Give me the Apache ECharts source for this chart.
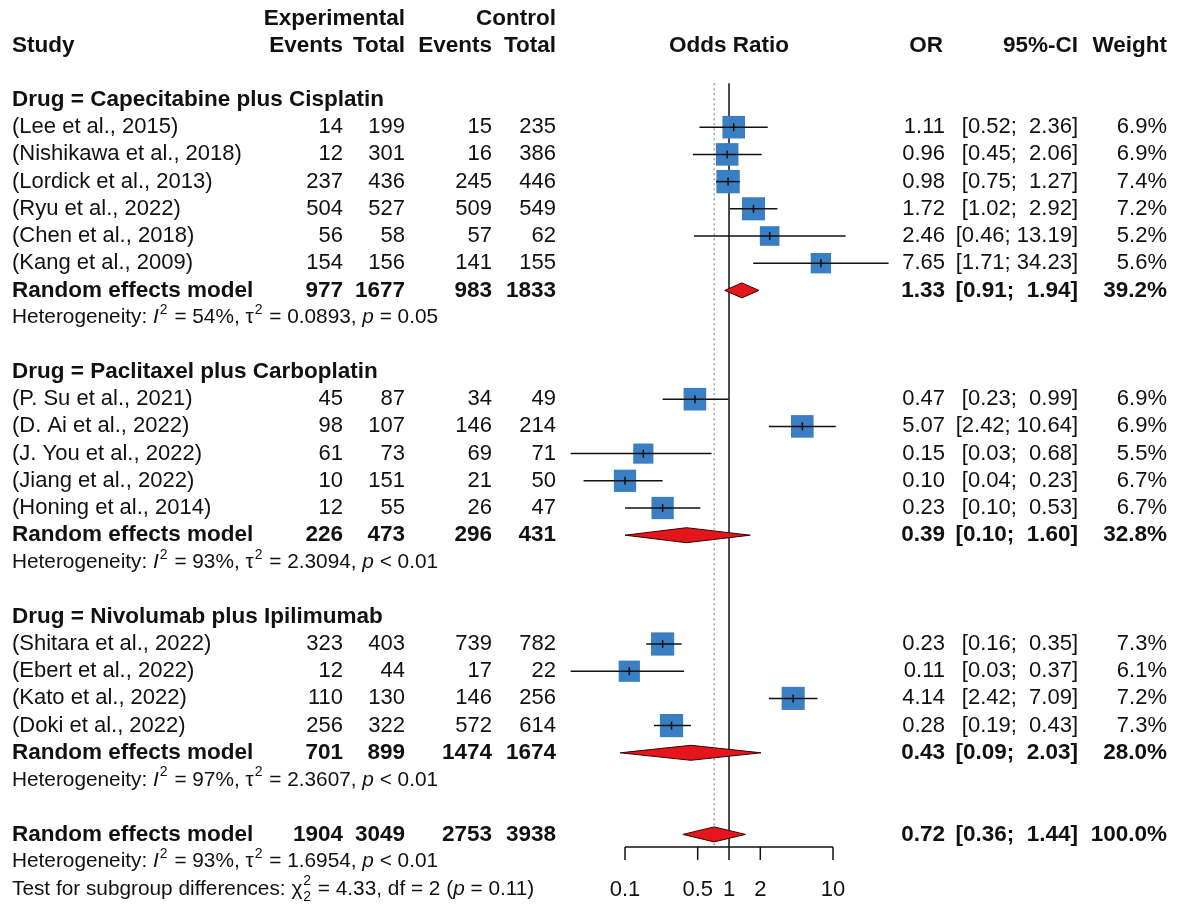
<!DOCTYPE html>
<html>
<head>
<meta charset="utf-8">
<title>Forest plot – odds ratios by drug regimen</title>
<script src="https://cdn.jsdelivr.net/npm/echarts@6/dist/echarts.min.js"></script>
<style>
  html, body { margin: 0; padding: 0; background: #fff; }
  #chart { width: 1177px; height: 906px; }
</style>
</head>
<body>
<div id="chart"></div>
<script>
// ---------------- data ----------------
const groupNames = ['Capecitabine plus Cisplatin', 'Paclitaxel plus Carboplatin', 'Nivolumab plus Ipilimumab'];

const studyLabels = [
  '(Lee et al., 2015)', '(Nishikawa et al., 2018)', '(Lordick et al., 2013)', '(Ryu et al., 2022)',
  '(Chen et al., 2018)', '(Kang et al., 2009)',
  '(P. Su et al., 2021)', '(D. Ai et al., 2022)', '(J. You et al., 2022)', '(Jiang et al., 2022)',
  '(Honing et al., 2014)',
  '(Shitara et al., 2022)', '(Ebert et al., 2022)', '(Kato et al., 2022)', '(Doki et al., 2022)'
];
const studyGroup = [0, 0, 0, 0, 0, 0, 1, 1, 1, 1, 1, 2, 2, 2, 2];
const expEvents  = [14, 12, 237, 504, 56, 154, 45, 98, 61, 10, 12, 323, 12, 110, 256];
const expTotal   = [199, 301, 436, 527, 58, 156, 87, 107, 73, 151, 55, 403, 44, 130, 322];
const ctrlEvents = [15, 16, 245, 509, 57, 141, 34, 146, 69, 21, 26, 739, 17, 146, 572];
const ctrlTotal  = [235, 386, 446, 549, 62, 155, 49, 214, 71, 50, 47, 782, 22, 256, 614];
const studyOR    = [1.11, 0.96, 0.98, 1.72, 2.46, 7.65, 0.47, 5.07, 0.15, 0.10, 0.23, 0.23, 0.11, 4.14, 0.28];
const studyLower = [0.52, 0.45, 0.75, 1.02, 0.46, 1.71, 0.23, 2.42, 0.03, 0.04, 0.10, 0.16, 0.03, 2.42, 0.19];
const studyUpper = [2.36, 2.06, 1.27, 2.92, 13.19, 34.23, 0.99, 10.64, 0.68, 0.23, 0.53, 0.35, 0.37, 7.09, 0.43];
const studyWeight = [6.9, 6.9, 7.4, 7.2, 5.2, 5.6, 6.9, 6.9, 5.5, 6.7, 6.7, 7.3, 6.1, 7.2, 7.3];

// subgroup random-effects summaries
const poolExpEvents  = [977, 226, 701];
const poolExpTotal   = [1677, 473, 899];
const poolCtrlEvents = [983, 296, 1474];
const poolCtrlTotal  = [1833, 431, 1674];
const poolOR     = [1.33, 0.39, 0.43];
const poolLower  = [0.91, 0.10, 0.09];
const poolUpper  = [1.94, 1.60, 2.03];
const poolWeight = [39.2, 32.8, 28.0];
const hetI2   = [54, 93, 97];
const hetTau2 = ['0.0893', '2.3094', '2.3607'];
const hetP    = ['= 0.05', '< 0.01', '< 0.01'];

// overall random-effects summary
const overallCounts = [1904, 3049, 2753, 3938];
const overallOR = [0.72, 0.36, 1.44];   // estimate, lower, upper
const overallWeight = 100.0;
const overallHet = { i2: 93, tau2: '1.6954', p: '< 0.01' };
const subgroupTest = { chi2: '4.33', df: 2, p: '= 0.11' };

// x-axis ticks of the odds-ratio scale
const axisTicks = [0.1, 0.5, 1, 2, 10];
const axisTickLabels = ['0.1', '0.5', '1', '2', '10'];

// ---------------- styling ----------------
const FAMILY = '"Liberation Sans", Arial, Helvetica, sans-serif';
const SIZE = 22;
const BOLD_SIZE = 22.5;
const HET_SIZE = 20.8;
const SUP_SIZE = 14;
const TEXT = '#111';
const SQUARE = '#3A7EC4';
const DIAMOND = '#E4161C';
const COL = { study: 12, expEv: 343, expTot: 405, ctrlEv: 492, ctrlTot: 556, or: 945, ci: 1078, w: 1167 };

function font(weight, size, style) {
  return (style || 'normal') + ' ' + weight + ' ' + size + 'px ' + FAMILY;
}
const measureCtx = document.createElement('canvas').getContext('2d');
function textWidth(str, f) { measureCtx.font = f; return measureCtx.measureText(str).width; }

function txt(x, y, s, f, align) {
  return {
    type: 'text', x: x, y: y, silent: true,
    style: { text: s, font: f, fill: TEXT, align: align || 'right', verticalAlign: 'middle' }
  };
}

const upperWidth = Math.max(...studyUpper.concat(poolUpper, [overallOR[2]]).map(v => v.toFixed(2).length));
const lowerWidth = Math.max(...studyLower.concat(poolLower, [overallOR[1]]).map(v => v.toFixed(2).length));
function pad(s, n) { return ' '.repeat(Math.max(0, n - s.length)) + s; }
function ciText(lo, hi) {
  return '[' + pad(lo.toFixed(2), lowerWidth) + '; ' + pad(hi.toFixed(2), upperWidth) + ']';
}

// ---------------- row layout ----------------
const layoutRows = [];
layoutRows.push({ row: -3, kind: 'head1' });
layoutRows.push({ row: -2, kind: 'head2' });
let r = 0;
groupNames.forEach((name, g) => {
  layoutRows.push({ row: r++, kind: 'group', g: g });
  studyGroup.forEach((sg, i) => { if (sg === g) layoutRows.push({ row: r++, kind: 'study', i: i }); });
  layoutRows.push({ row: r++, kind: 'pooled', g: g });
  layoutRows.push({ row: r++, kind: 'het', g: g });
  r++;
});
const overallRow = r;
layoutRows.push({ row: r++, kind: 'overall' });
layoutRows.push({ row: r++, kind: 'overallHet' });
layoutRows.push({ row: r++, kind: 'test' });
const studyRow = {};
const poolRow = {};
layoutRows.forEach(o => { if (o.kind === 'study') studyRow[o.i] = o.row; if (o.kind === 'pooled') poolRow[o.g] = o.row; });

const REF_TOP_ROW = -0.62;
const AXIS_ROW = 27.46;
const LABEL_ROW = 29.05;

function pieceTexts(x0, y, pieces) {
  const out = [];
  let x = x0;
  pieces.forEach(p => {
    if (p.sup || p.sub) {
      const f = font('normal', SUP_SIZE);
      if (p.sup) out.push(txt(x + 1, y - 7.5, p.t, f, 'left'));
      if (p.sub) out.push(txt(x + 1, y + 8, p.t, f, 'left'));
      x += textWidth(p.t, f) + 2;
    } else {
      const f = font('normal', HET_SIZE, p.it ? 'italic' : 'normal');
      out.push(txt(x, y, p.t, f, 'left'));
      x += textWidth(p.t, f);
    }
  });
  return out;
}
function hetPieces(i2, tau2, p) {
  return [
    { t: 'Heterogeneity: ' }, { t: 'I', it: true }, { t: '2', sup: true },
    { t: ' = ' + i2 + '%, ' }, { t: 'τ' }, { t: '2', sup: true },
    { t: ' = ' + tau2 + ', ' }, { t: 'p', it: true }, { t: ' ' + p }
  ];
}

function numberCells(y, f, a, b, c, d) {
  return [
    txt(COL.expEv, y, String(a), f), txt(COL.expTot, y, String(b), f),
    txt(COL.ctrlEv, y, String(c), f), txt(COL.ctrlTot, y, String(d), f)
  ];
}
function effectCells(y, f, est, lo, hi, w) {
  return [
    txt(COL.or, y, est.toFixed(2), f), txt(COL.ci, y, ciText(lo, hi), f),
    txt(COL.w, y, w.toFixed(1) + '%', f)
  ];
}

function renderTable(params, api) {
  const o = layoutRows[params.dataIndex];
  const y = api.coord([1, o.row])[1];
  const B = font('bold', BOLD_SIZE), N = font('normal', SIZE);
  let ch = [];
  switch (o.kind) {
    case 'head1':
      ch = [txt(COL.expTot, y, 'Experimental', B), txt(COL.ctrlTot, y, 'Control', B)];
      break;
    case 'head2':
      ch = [
        txt(COL.study, y, 'Study', B, 'left'),
        txt(COL.expEv, y, 'Events', B), txt(COL.expTot, y, 'Total', B),
        txt(COL.ctrlEv, y, 'Events', B), txt(COL.ctrlTot, y, 'Total', B),
        txt(api.coord([1, o.row])[0], y, 'Odds Ratio', B, 'center'),
        txt(COL.or - 2, y, 'OR', B), txt(COL.ci, y, '95%-CI', B), txt(COL.w, y, 'Weight', B)
      ];
      break;
    case 'group':
      ch = [txt(COL.study, y, 'Drug = ' + groupNames[o.g], B, 'left')];
      break;
    case 'study': {
      const i = o.i;
      ch = [txt(COL.study, y, studyLabels[i], N, 'left')]
        .concat(numberCells(y, N, expEvents[i], expTotal[i], ctrlEvents[i], ctrlTotal[i]))
        .concat(effectCells(y, N, studyOR[i], studyLower[i], studyUpper[i], studyWeight[i]));
      break;
    }
    case 'pooled': {
      const g = o.g;
      ch = [txt(COL.study, y, 'Random effects model', B, 'left')]
        .concat(numberCells(y, B, poolExpEvents[g], poolExpTotal[g], poolCtrlEvents[g], poolCtrlTotal[g]))
        .concat(effectCells(y, B, poolOR[g], poolLower[g], poolUpper[g], poolWeight[g]));
      break;
    }
    case 'het':
      ch = pieceTexts(COL.study, y, hetPieces(hetI2[o.g], hetTau2[o.g], hetP[o.g]));
      break;
    case 'overall':
      ch = [txt(COL.study, y, 'Random effects model', B, 'left')]
        .concat(numberCells(y, B, overallCounts[0], overallCounts[1], overallCounts[2], overallCounts[3]))
        .concat(effectCells(y, B, overallOR[0], overallOR[1], overallOR[2], overallWeight));
      break;
    case 'overallHet':
      ch = pieceTexts(COL.study, y, hetPieces(overallHet.i2, overallHet.tau2, overallHet.p));
      break;
    case 'test':
      ch = pieceTexts(COL.study, y, [
        { t: 'Test for subgroup differences: ' }, { t: 'χ' }, { t: '2', sup: true, sub: true },
        { t: ' = ' + subgroupTest.chi2 + ', df = ' + subgroupTest.df + ' (' }, { t: 'p', it: true },
        { t: ' ' + subgroupTest.p + ')' }
      ]);
      break;
  }
  return { type: 'group', children: ch };
}

// ---------------- series data ----------------
const studyData = studyOR.map((v, i) => [v, studyLower[i], studyUpper[i], studyRow[i], studyWeight[i]]);
const diamondData = poolOR.map((v, g) => [v, poolLower[g], poolUpper[g], poolRow[g]])
  .concat([[overallOR[0], overallOR[1], overallOR[2], overallRow]]);
const refData = [[1, 0], [overallOR[0], 1]];

const chart = echarts.init(document.getElementById('chart'), null, { renderer: 'canvas' });
chart.setOption({
  animation: false,
  backgroundColor: '#fff',
  grid: { left: 521, width: 416, top: 18.4, height: 870.4 },
  xAxis: { type: 'log', logBase: 10, min: 0.01, max: 100, show: false },
  yAxis: { type: 'value', inverse: true, min: -3, max: 29, show: false },
  series: [
    {
      // line of no effect and overall estimate
      type: 'custom', silent: true, data: refData, encode: { x: 0, y: 1 },
      renderItem: (params, api) => {
        const x = api.coord([api.value(0), 0])[0];
        const y1 = api.coord([1, REF_TOP_ROW])[1];
        const y2 = api.coord([1, AXIS_ROW])[1];
        const solid = api.value(1) === 0;
        return {
          type: 'line', silent: true,
          shape: { x1: x, y1: y1, x2: x, y2: y2 },
          style: solid ? { stroke: '#111', lineWidth: 1.5 }
                       : { stroke: '#888', lineWidth: 1.2, lineDash: [2, 3] }
        };
      }
    },
    {
      // study estimates: weighted squares with 95% CI
      type: 'custom', silent: true, data: studyData, encode: { x: [0, 1, 2], y: 3 },
      renderItem: (params, api) => {
        const row = api.value(3);
        const c = api.coord([api.value(0), row]);
        const lo = api.coord([api.value(1), row]);
        const hi = api.coord([api.value(2), row]);
        const side = 8.6 * Math.sqrt(api.value(4));
        return {
          type: 'group', children: [
            { type: 'rect', shape: { x: c[0] - side / 2, y: c[1] - side / 2, width: side, height: side },
              style: { fill: SQUARE } },
            { type: 'line', shape: { x1: lo[0], y1: c[1], x2: hi[0], y2: c[1] },
              style: { stroke: '#111', lineWidth: 1.5 } },
            { type: 'line', shape: { x1: c[0], y1: c[1] - 4, x2: c[0], y2: c[1] + 4 },
              style: { stroke: '#111', lineWidth: 1.5 } }
          ]
        };
      }
    },
    {
      // pooled estimates as diamonds
      type: 'custom', silent: true, data: diamondData, encode: { x: [0, 1, 2], y: 3 },
      renderItem: (params, api) => {
        const row = api.value(3);
        const c = api.coord([api.value(0), row]);
        const lo = api.coord([api.value(1), row]);
        const hi = api.coord([api.value(2), row]);
        const h = 7.5;
        return {
          type: 'polygon',
          shape: { points: [[lo[0], c[1]], [c[0], c[1] - h], [hi[0], c[1]], [c[0], c[1] + h]] },
          style: { fill: DIAMOND, stroke: '#3a0000', lineWidth: 1 }
        };
      }
    },
    {
      // odds-ratio axis
      type: 'custom', silent: true, data: axisTicks.map((v, i) => [v, i]), encode: { x: 0 },
      renderItem: (params, api) => {
        const yAxis = api.coord([1, AXIS_ROW])[1];
        const yLab = api.coord([1, LABEL_ROW])[1];
        const x = api.coord([api.value(0), AXIS_ROW])[0];
        const ch = [
          { type: 'line', shape: { x1: x, y1: yAxis, x2: x, y2: yAxis + 13 }, style: { stroke: '#111', lineWidth: 1.5 } },
          txt(x, yLab, axisTickLabels[params.dataIndex], font('normal', SIZE), 'center')
        ];
        if (params.dataIndex === 0) {
          const xEnd = api.coord([axisTicks[axisTicks.length - 1], AXIS_ROW])[0];
          ch.push({ type: 'line', shape: { x1: x, y1: yAxis, x2: xEnd, y2: yAxis }, style: { stroke: '#111', lineWidth: 1.5 } });
        }
        return { type: 'group', children: ch };
      }
    },
    {
      // table text
      type: 'custom', silent: true, data: layoutRows.map(o => [1, o.row]), encode: { x: 0, y: 1 },
      renderItem: renderTable
    }
  ]
});
</script>
</body>
</html>
